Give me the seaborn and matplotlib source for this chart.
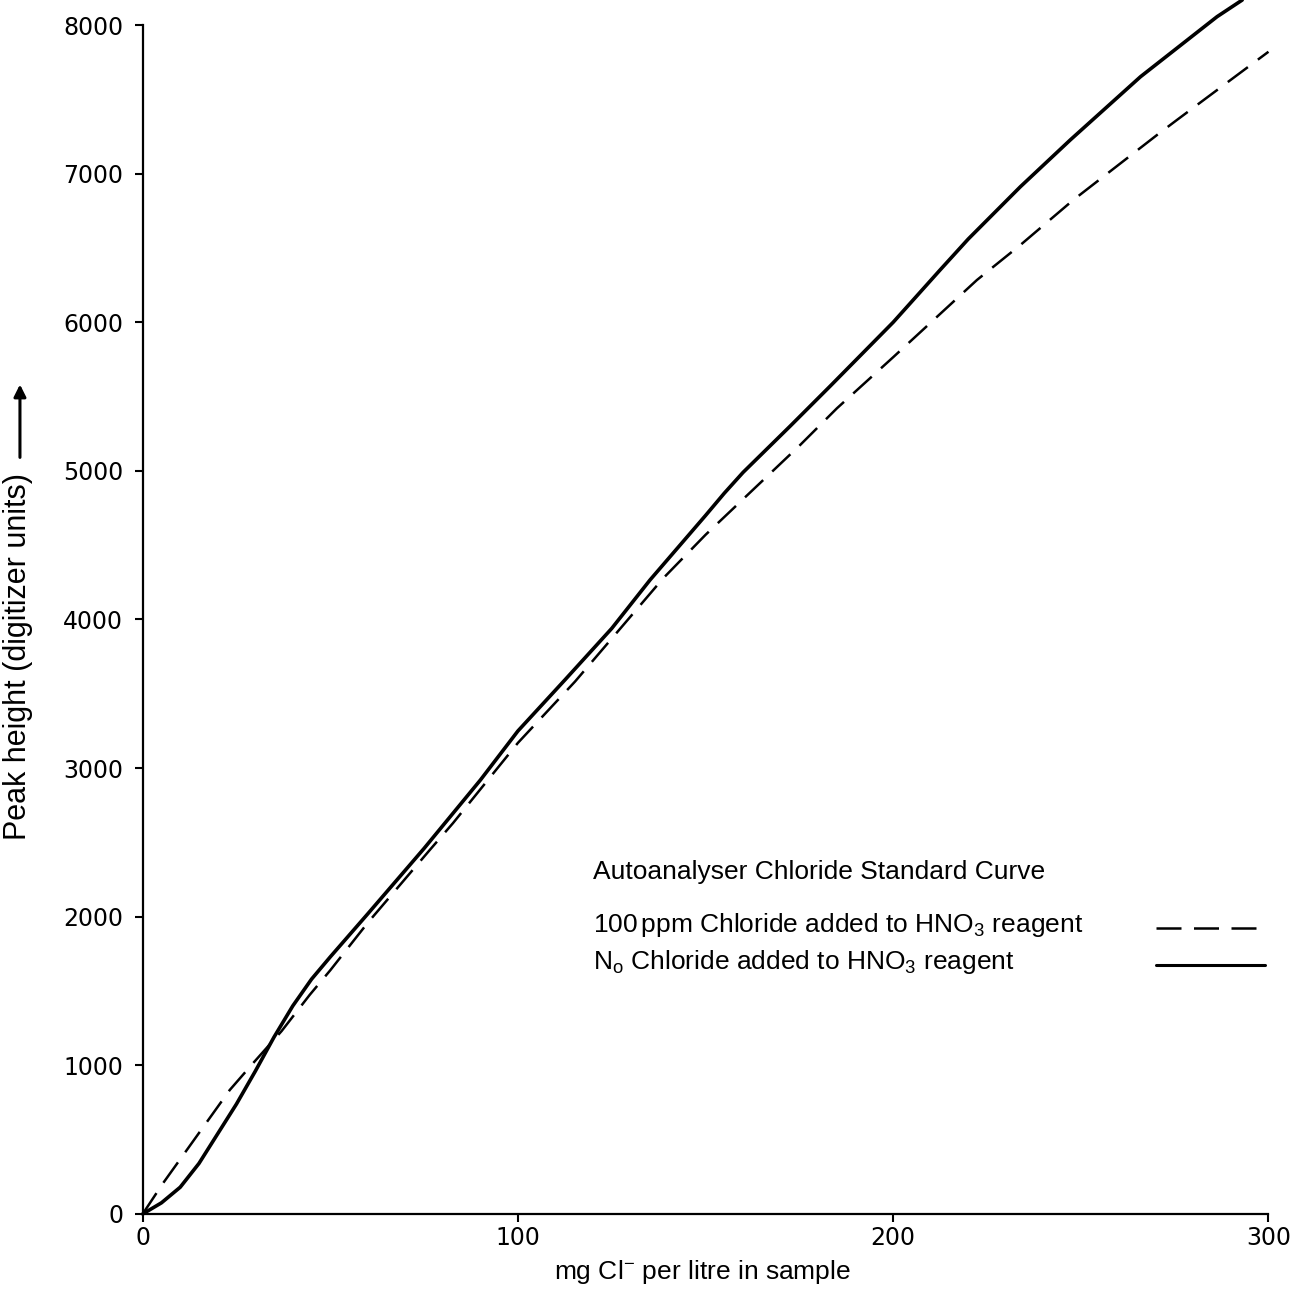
import matplotlib
matplotlib.use('Agg')
import matplotlib.pyplot as plt
import seaborn as sns
import pandas as pd

# values (mg Cl- per litre vs peak height)
x_spiked = [0, 5.4, 14.3, 23.2, 29.4, 37, 44.5, 50, 60, 76.5, 82.7, 100, 115.2,
            138.7, 150, 175.2, 185, 200, 222.3, 233.9, 248, 270.3, 275.6, 300]
y_spiked = [0, 206, 520, 834, 1014, 1230, 1474, 1640, 1960, 2449, 2630, 3170, 3582,
            4277, 4570, 5174, 5421, 5765, 6284, 6520, 6823, 7260, 7361, 7820]

x_plain = [0, 5, 10, 15, 20, 25, 30, 35, 40, 45, 50, 60, 75, 90, 100, 112.5, 125,
           135.2, 150, 155, 160, 172.5, 183.2, 200, 212.5, 220, 233.9, 247.2, 265.9,
           286.3, 293]
y_plain = [0, 75, 180, 340, 540, 740, 960, 1190, 1400, 1580, 1730, 2020, 2460, 2920,
           3250, 3593, 3940, 4266, 4700, 4850, 4990, 5300, 5570, 6000, 6352, 6560,
           6912, 7227, 7652, 8056, 8168]

x_ticks = [0, 100, 200, 300]
y_ticks = [0, 1000, 2000, 3000, 4000, 5000, 6000, 7000, 8000]

title_txt = 'Autoanalyser Chloride Standard Curve'
label_spiked = r'100$\,$ppm Chloride added to HNO$_3$ reagent'
label_plain = r'N$_{\mathrm{o}}$ Chloride added to HNO$_3$ reagent'

sns.set_style('white')
plt.rcParams['font.family'] = ['Liberation Sans', 'DejaVu Sans']
plt.rcParams['mathtext.fontset'] = 'custom'
plt.rcParams['mathtext.rm'] = 'Liberation Sans'
plt.rcParams['mathtext.it'] = 'Liberation Sans'
plt.rcParams['text.color'] = 'black'
plt.rcParams['axes.labelcolor'] = 'black'

df_spiked = pd.DataFrame({'x': x_spiked, 'y': y_spiked})
df_plain = pd.DataFrame({'x': x_plain, 'y': y_plain})

fig = plt.figure(figsize=(12.97, 12.89), dpi=100)
ax = fig.add_axes([0.110, 0.0582, 0.868, 0.9224])

sns.lineplot(data=df_spiked, x='x', y='y', ax=ax, color='black', linewidth=1.8,
             linestyle=(0, (10, 5)), clip_on=False)
sns.lineplot(data=df_plain, x='x', y='y', ax=ax, color='black', linewidth=2.6,
             clip_on=False)

ax.set_xlim(0, 300)
ax.set_ylim(0, 8000)
ax.set_xticks(x_ticks)
ax.set_yticks(y_ticks)
ax.tick_params(axis='both', direction='out', length=6, width=1.5, labelsize=17,
               colors='black', bottom=True, left=True)
ax.tick_params(axis='y', pad=8)
ax.tick_params(axis='x', pad=3)
for lab in ax.get_xticklabels() + ax.get_yticklabels():
    lab.set_family('DejaVu Sans')

sns.despine(ax=ax)
for side in ['left', 'bottom']:
    ax.spines[side].set_linewidth(1.6)
    ax.spines[side].set_color('black')

ax.set_xlabel(r'mg Cl$^{-}$ per litre in sample', fontsize=19)
ax.xaxis.set_label_coords(0.497, -0.037)
ax.set_ylabel('Peak height (digitizer units)', fontsize=22)
ax.yaxis.set_label_coords(-0.097, 0.469)
ax.annotate('', xy=(-0.109, 0.700), xytext=(-0.109, 0.634), xycoords='axes fraction',
            arrowprops=dict(arrowstyle='-|>', color='black', lw=2.2,
                            mutation_scale=18), annotation_clip=False)

# key, laid out like the original figure
ax.text(0.40, 0.288, title_txt, transform=ax.transAxes, fontsize=19, va='center')
ax.text(0.40, 0.243, label_spiked, transform=ax.transAxes, fontsize=19, va='center')
ax.text(0.40, 0.212, label_plain, transform=ax.transAxes, fontsize=19, va='center')
ax.plot([0.900, 0.997], [0.2405, 0.2405], transform=ax.transAxes, color='black',
        linewidth=1.8, linestyle=(0, (10, 5)), clip_on=False)
ax.plot([0.900, 0.997], [0.2094, 0.2094], transform=ax.transAxes, color='black',
        linewidth=2.2, clip_on=False)

plt.savefig('out.png', dpi=100)
